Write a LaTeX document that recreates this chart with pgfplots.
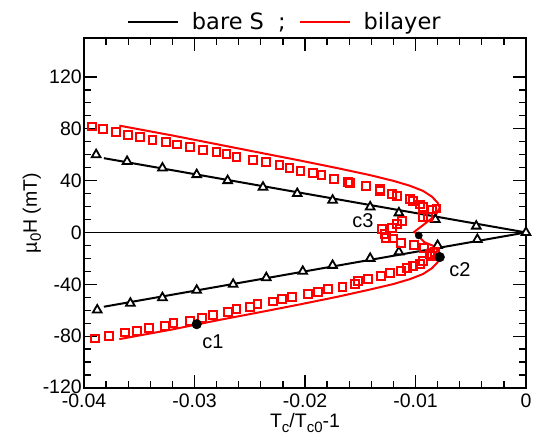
\documentclass[border=0pt]{standalone}
\usepackage{pgfplots}
\pgfplotsset{compat=1.18}
\usepackage{fontspec}
\setmainfont{Liberation Sans}
\newfontfamily\dejavu{DejaVu Sans}
\newcommand{\lsub}[1]{\raisebox{-0.4ex}{\fontsize{15}{15}\selectfont #1}}
\begin{document}
\begin{tikzpicture}
\begin{axis}[
 scale only axis, width=442pt, height=350pt,
 xmin=-0.04, xmax=0, ymin=-120, ymax=150,
 xtick={-0.04,-0.03,-0.02,-0.01,0},
 xticklabels={-0.04,-0.03,-0.02,-0.01,0},
 ytick={-120,-80,-40,0,40,80,120},
 yticklabels={\raisebox{3pt}{-120},-80,-40,0,40,80,120},
 minor x tick num=4, minor y tick num=3,
 tick align=inside,
 major tick length=13pt, minor tick length=7pt,
 every tick/.style={black, line width=1.3pt},
 axis line style={line width=1.8pt},
 ticklabel style={font=\fontsize{19.5}{21}\selectfont},
 xticklabel style={inner sep=1pt, yshift=-5pt},
 yticklabel style={inner sep=2pt},
 scaled x ticks=false,
 xlabel={T\lsub{c}/T\lsub{c0}-1},
 ylabel={\textmu\lsub{0}H (mT)},
 label style={font=\fontsize{19.5}{21}\selectfont},
 xlabel style={at={(axis description cs:0.5,-0.1)},anchor=center},
 ylabel style={at={(axis description cs:-0.118,0.5)},anchor=center},
 legend style={at={(0.452,1)}, anchor=south, yshift=5pt, draw=none, fill=none,
   font=\dejavu\fontsize{22.5}{24}\selectfont, legend columns=2,
   nodes={inner sep=0pt},
   /tikz/every even column/.style={column sep=13pt},
   /tikz/every odd column/.style={column sep=13pt}},
 legend cell align=left,
 legend image code/.code={\draw[#1] (0pt,0pt) -- (50pt,0pt);},
]
\coordinate (bl) at (rel axis cs:-0.19,-0.1514);
\coordinate (tr) at (rel axis cs:1.0385,1.1086);

\addplot[black, line width=1.5pt, forget plot] coordinates {(-0.04,0) (0,0)};

\addplot[black, line width=2pt] coordinates {(-0.0382,57.3) (0,0) (-0.0382,-57.3)};
\addlegendentry{bare S\hspace{14pt};}

\addplot[red, line width=2pt] coordinates {
(-0.0368,82.4) (-0.0320,74.8) (-0.0277,67.6) (-0.0240,61.4) (-0.0204,55.4)
(-0.0170,49.5) (-0.0141,44.2) (-0.0120,39.8) (-0.0105,36) (-0.0093,32)
(-0.0085,27.5) (-0.0080,23) (-0.0078,19) (-0.0082,13) (-0.0101,0.5)
(-0.0092,-7.5) (-0.0082,-11) (-0.0079,-16) (-0.0078,-19.5) (-0.0080,-23)
(-0.0085,-27.5) (-0.0093,-32) (-0.0105,-36) (-0.0120,-39.8) (-0.0141,-44)
(-0.0170,-49.5) (-0.0204,-55.4) (-0.0240,-61.4) (-0.0277,-67.4) (-0.0320,-74.8)
(-0.0368,-82.3)};
\addlegendentry{bilayer}

\addplot[only marks, mark=triangle*, mark size=5pt, forget plot,
 mark options={draw=black, fill=white, line width=1.8pt}] coordinates {
(-0.0389,60) (-0.0361,54.8) (-0.0329,49.7) (-0.0298,44.6) (-0.0270,40)
(-0.0238,34.9) (-0.0207,30) (-0.0175,24.9) (-0.0141,19.7) (-0.0115,15.1)
(-0.0082,10) (-0.0045,4.9) (0,0)
(-0.0388,-59.8) (-0.0358,-54.6) (-0.0329,-50.3) (-0.0298,-44.6) (-0.0265,-40)
(-0.0235,-34.9) (-0.0202,-30) (-0.0175,-25.4) (-0.0141,-20) (-0.0115,-15)
(-0.0080,-10) (-0.0044,-5.4)};

\addplot[only marks, mark=square, mark size=3.9pt, forget plot,
 mark options={draw=red, line width=2pt}] coordinates {
(-0.0393,81.8) (-0.0383,79.7) (-0.0371,77.4) (-0.0360,75.4) (-0.0349,73.6)
(-0.0338,71.5) (-0.0326,69.7) (-0.0316,67.9) (-0.0304,65.9) (-0.0292,63.8)
(-0.0280,61.8) (-0.0271,60.4) (-0.0262,58.2) (-0.0247,55.6) (-0.0235,54.1)
(-0.0223,52) (-0.0214,49.7) (-0.0204,47.7) (-0.0193,45.9) (-0.0185,44.1)
(-0.0174,41.5) (-0.0161,38.7) (-0.0159,38.0) (-0.0145,35.6) (-0.0132,33.8)
(-0.0132,31.8) (-0.0121,29.8) (-0.0117,28) (-0.0105,25.9) (-0.0102,24.1)
(-0.0096,21.5) (-0.0093,19.5) (-0.0085,17.7) (-0.0081,18.5)
(-0.0093,12.1) (-0.0089,11.8) (-0.0112,8.7) (-0.0117,6.7) (-0.0121,3.6)
(-0.0130,2.8) (-0.0128,-1.5) (-0.0127,-4.1) (-0.0120,-4.6) (-0.0113,-7.9)
(-0.0101,-9.7) (-0.0092,-11.8) (-0.0082,-14.9) (-0.0087,-16.4) (-0.0085,-18.2)
(-0.0093,-22) (-0.0096,-24.1) (-0.0102,-25.9) (-0.0108,-27.7) (-0.0113,-29.7)
(-0.0123,-31) (-0.0131,-33.6) (-0.0143,-35.6) (-0.0152,-37.4) (-0.0155,-39.5)
(-0.0166,-42) (-0.0179,-43.8) (-0.0188,-45.9) (-0.0197,-47.2) (-0.0212,-49.7)
(-0.0221,-51.5) (-0.0229,-53.3) (-0.0243,-55.4) (-0.0250,-57.4) (-0.0262,-59.2)
(-0.0270,-61.6) (-0.0283,-63.8) (-0.0293,-66.2) (-0.0304,-68.2) (-0.0319,-70)
(-0.0327,-72) (-0.0341,-73.8) (-0.0352,-75.9) (-0.0363,-77.2) (-0.0377,-79.7)
(-0.0390,-81.8)};

\addplot[only marks, mark=*, mark size=4.8pt, black, forget plot] coordinates {(-0.0298,-70.8) (-0.0078,-19)};
\addplot[only marks, mark=*, mark size=3.6pt, black, forget plot] coordinates {(-0.0097,-2.3)};

\node[font=\fontsize{20}{22}\selectfont] at (axis cs:-0.02833,-84.6) {c1};
\node[font=\fontsize{20}{22}\selectfont] at (axis cs:-0.00597,-28.5) {c2};
\node[font=\fontsize{20}{22}\selectfont] at (axis cs:-0.01475,9.2) {c3};
\end{axis}
\pgfresetboundingbox
\path[use as bounding box] (bl) rectangle (tr);
\end{tikzpicture}
\end{document}
